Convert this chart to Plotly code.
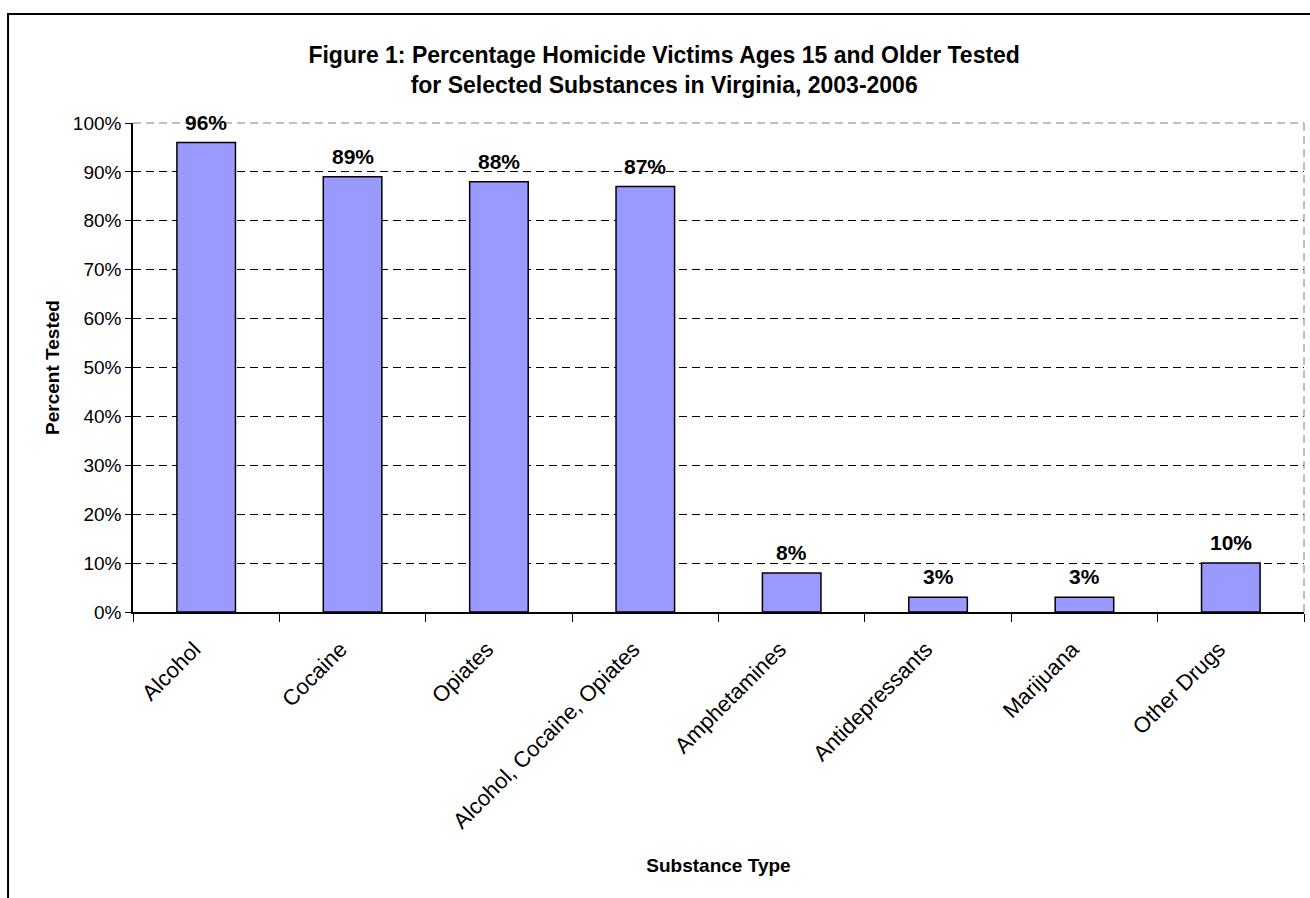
import plotly.graph_objects as go

categories = ["Alcohol", "Cocaine", "Opiates", "Alcohol, Cocaine, Opiates",
              "Amphetamines", "Antidepressants", "Marijuana", "Other Drugs"]
percent_tested = [96, 89, 88, 87, 8, 3, 3, 10]
y_ticks = [0, 10, 20, 30, 40, 50, 60, 70, 80, 90, 100]
y_tick_labels = [f"{v}%" for v in y_ticks]

FONT = "Arial, Liberation Sans, sans-serif"

fig = go.Figure()
fig.add_trace(go.Bar(
    x=categories, y=percent_tested,
    marker=dict(color="#9999FF", line=dict(color="black", width=1.5)),
    width=0.4, hoverinfo="x+y",
))

for c, v in zip(categories, percent_tested):
    fig.add_annotation(x=c, y=v, text=f"<b>{v}%</b>", showarrow=False,
                       yanchor="bottom", yshift=7,
                       font=dict(family=FONT, size=21, color="black"))

# outer frame and plot-area border
fig.add_shape(type="rect", xref="paper", yref="paper",
              x0=-0.1067, y0=-1.0, x1=1.2, y1=1.2229,
              line=dict(color="black", width=2), layer="below")
fig.add_shape(type="line", xref="paper", yref="paper", x0=0, y0=1, x1=1, y1=1,
              line=dict(color="#808080", width=1, dash="8px,5px"))
fig.add_shape(type="line", xref="paper", yref="paper", x0=1, y0=0, x1=1, y1=1,
              line=dict(color="#808080", width=1, dash="8px,5px"))

fig.update_layout(
    width=1310, height=898,
    margin=dict(l=133, r=6, t=123, b=286),
    paper_bgcolor="white", plot_bgcolor="white",
    font=dict(family=FONT, color="black"),
    showlegend=False,
    title=dict(
        text="<b>Figure 1: Percentage Homicide Victims Ages 15 and Older Tested<br>for Selected Substances in Virginia, 2003-2006</b>",
        x=0.507, xanchor="center", xref="container",
        y=1 - 63 / 898, yanchor="top", yref="container",
        font=dict(family=FONT, size=23, color="black"),
    ),
    xaxis=dict(
        type="category", tickson="boundaries", ticks="outside", ticklen=8,
        tickcolor="black", tickwidth=1, showline=True, linecolor="black",
        linewidth=1.5, tickangle=-45, showgrid=False,
        ticklabelshift=-12, ticklabelstandoff=14,
        tickfont=dict(family=FONT, size=22, color="black"),
        title=dict(text="<b>Substance Type</b>", standoff=26,
                   font=dict(family=FONT, size=19, color="black")),
        range=[-0.5, 7.5],
    ),
    yaxis=dict(
        range=[0, 100], tickvals=y_ticks, ticktext=y_tick_labels,
        ticks="outside", ticklen=6, tickcolor="black", tickwidth=1,
        showline=True, linecolor="black", linewidth=1.5,
        showgrid=True, gridcolor="black", gridwidth=1, griddash="8px,5px",
        zeroline=False,
        tickfont=dict(family=FONT, size=19, color="black"),
        title=dict(text="<b>Percent Tested</b>", standoff=8,
                   font=dict(family=FONT, size=19, color="black")),
    ),
)

fig.write_html("out.html")
